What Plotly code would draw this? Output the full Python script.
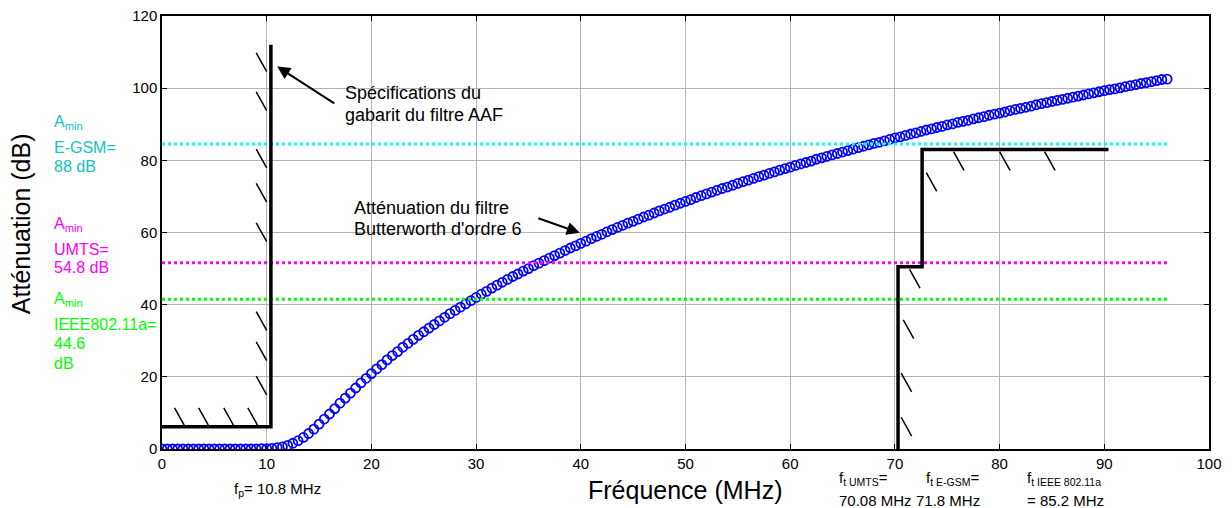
import plotly.graph_objects as go

# courbe d'attenuation (Butterworth ordre 6), lue sur le graphe, pas de 0.5 MHz
freq_step = 0.5
attenuation = [
    0.0, 0.0, 0.0, 0.0, 0.0, 0.0, 0.0, 0.0, 0.0, 0.0,
    0.0, 0.0, 0.0, 0.0, 0.0, 0.0, 0.0, 0.0, 0.0, 0.1,
    0.1, 0.2, 0.4, 0.6, 1.0, 1.6, 2.3, 3.2, 4.3, 5.5,
    6.9, 8.3, 9.7, 11.2, 12.7, 14.1, 15.5, 16.9, 18.3, 19.6,
    20.9, 22.2, 23.4, 24.7, 25.9, 27.0, 28.2, 29.3, 30.4, 31.5,
    32.5, 33.5, 34.5, 35.5, 36.5, 37.5, 38.4, 39.3, 40.2, 41.1,
    42.0, 42.9, 43.7, 44.6, 45.4, 46.2, 47.0, 47.8, 48.5, 49.3,
    50.0, 50.8, 51.5, 52.2, 52.9, 53.6, 54.3, 55.0, 55.7, 56.3,
    57.0, 57.6, 58.3, 58.9, 59.5, 60.2, 60.8, 61.4, 62.0, 62.6,
    63.1, 63.7, 64.3, 64.8, 65.4, 66.0, 66.5, 67.0, 67.6, 68.1,
    68.6, 69.1, 69.7, 70.2, 70.7, 71.2, 71.7, 72.2, 72.6, 73.1,
    73.6, 74.1, 74.5, 75.0, 75.5, 75.9, 76.4, 76.8, 77.3, 77.7,
    78.1, 78.6, 79.0, 79.4, 79.8, 80.3, 80.7, 81.1, 81.5, 81.9,
    82.3, 82.7, 83.1, 83.5, 83.9, 84.3, 84.7, 85.0, 85.4, 85.8,
    86.2, 86.5, 86.9, 87.3, 87.6, 88.0, 88.4, 88.7, 89.1, 89.4,
    89.8, 90.1, 90.5, 90.8, 91.1, 91.5, 91.8, 92.1, 92.5, 92.8,
    93.1, 93.4, 93.8, 94.1, 94.4, 94.7, 95.0, 95.4, 95.7, 96.0,
    96.3, 96.6, 96.9, 97.2, 97.5, 97.8, 98.1, 98.4, 98.7, 99.0,
    99.3, 99.6, 99.8, 100.1, 100.4, 100.7, 101.0, 101.3, 101.5, 101.8,
    102.1, 102.4, 102.5,
]
freq = [i * freq_step for i in range(len(attenuation))]

# gabarit du filtre AAF
pass_x = [0, 10.4, 10.4]
pass_y = [6.2, 6.2, 112]
stop_x = [70.3, 70.3, 72.6, 72.6, 90.4]
stop_y = [-2, 50.5, 50.5, 83.0, 83.0]

# hachures (point haut-gauche de chaque trait)
hatch_x = [1.2, 3.5, 5.9, 8.2,
           9.0, 9.0, 9.0, 9.0, 9.0, 9.0, 9.0, 9.0,
           70.8, 70.6, 70.6, 71.4, 73.0, 75.6, 80.0, 84.3]
hatch_y = [11.4, 11.4, 11.4, 11.4,
           109.8, 99.0, 83.1, 73.6, 62.7, 38.1, 29.7, 20.2,
           35.8, 21.0, 8.8, 49.8, 76.6, 82.4, 82.4, 82.4]
hatch_dx, hatch_dy = 1.0, 5.2

# attenuations minimales
amin_levels = [84.5, 51.6, 41.5]
amin_colors = ["#00FFFF", "#FF00FF", "#00FF00"]
amin_x = [0, 96]

X_RANGE = [0, 100]
Y_RANGE = [0, 120]
FONT = "Liberation Sans, Arial, sans-serif"

fig = go.Figure()

fig.add_trace(go.Scatter(x=freq, y=attenuation, mode="markers",
                         marker=dict(symbol="circle-open", size=9, color="#0000FF",
                                     line=dict(width=1.8, color="#0000FF"))))

for lvl, col in zip(amin_levels, amin_colors):
    fig.add_trace(go.Scatter(x=amin_x, y=[lvl, lvl], mode="lines",
                             line=dict(color=col, width=3, dash="dot")))

hx, hy = [], []
for x0, y0 in zip(hatch_x, hatch_y):
    hx += [x0, x0 + hatch_dx, None]
    hy += [y0, y0 - hatch_dy, None]
fig.add_trace(go.Scatter(x=hx, y=hy, mode="lines", line=dict(color="black", width=1.5)))

fig.add_trace(go.Scatter(x=pass_x, y=pass_y, mode="lines", line=dict(color="black", width=3.5)))
fig.add_trace(go.Scatter(x=stop_x, y=stop_y, mode="lines", line=dict(color="black", width=3.5)))


def px(x):
    return (x - X_RANGE[0]) / (X_RANGE[1] - X_RANGE[0])


def py(y):
    return (y - Y_RANGE[0]) / (Y_RANGE[1] - Y_RANGE[0])


def label(x, y, text, color="black", size=15, anchor="left", angle=0):
    # positions en unites des axes, converties en coordonnees paper (texte hors du cadre)
    fig.add_annotation(x=px(x), y=py(y), xref="paper", yref="paper", text=text,
                       showarrow=False, xanchor=anchor, yanchor="middle", textangle=angle,
                       font=dict(family=FONT, size=size, color=color))


# textes a gauche
cyan_txt = "#10C4C4"
label(-10.5, 90.4, "A<sub>min</sub>", cyan_txt, 16)
label(-10.5, 83.6, "E-GSM=", cyan_txt, 16)
label(-10.5, 78.4, "88 dB", cyan_txt, 16)
label(-10.5, 62.1, "A<sub>min</sub>", "#FF00FF", 16)
label(-10.5, 55.4, "UMTS=", "#FF00FF", 16)
label(-10.5, 50.3, "54.8 dB", "#FF00FF", 16)
label(-10.5, 41.3, "A<sub>min</sub>", "#00FF00", 16)
label(-10.5, 34.6, "IEEE802.11a=", "#00FF00", 16)
label(-10.5, 29.1, "44.6", "#00FF00", 16)
label(-10.5, 23.8, "dB", "#00FF00", 16)

# textes dans le graphe
label(17.3, 98.6, "Spécifications du", size=18)
label(17.3, 92.7, "gabarit du filtre AAF", size=18)
label(18.1, 66.8, "Atténuation du filtre", size=18)
label(18.1, 61.0, "Butterworth d'ordre 6", size=18)

# textes sous l'axe
label(6.66, -11.1, "f<sub>p</sub>= 10.8 MHz")
label(64.5, -8.3, "f<sub>t UMTS</sub>=")
label(64.5, -14.4, "70.08 MHz")
label(72.8, -8.3, "f<sub>t E-GSM</sub>=")
label(71.8, -14.4, "71.8 MHz")
label(82.4, -8.3, "f<sub>t IEEE 802.11a</sub>")
label(82.4, -14.4, "= 85.2 MHz")

# titres des axes
label(50, -11.4, "Fréquence (MHz)", size=25, anchor="center")
label(-13.4, 62.5, "Atténuation (dB)", size=25, anchor="center", angle=-90)

# fleches
for (hx0, hy0, tx0, ty0) in [(11.0, 106.0, 16.6, 95.5), (39.9, 59.9, 35.8, 64.1)]:
    fig.add_annotation(x=hx0, y=hy0, ax=tx0, ay=ty0, xref="x", yref="y", axref="x", ayref="y",
                       text="", showarrow=True, arrowhead=2, arrowsize=1.3, arrowwidth=2,
                       arrowcolor="black")

axis_style = dict(showline=True, linecolor="black", linewidth=1.5, mirror="ticks",
                  ticks="inside", ticklen=5, tickcolor="black", showgrid=True,
                  gridcolor="#B4B4B4", gridwidth=1, zeroline=False, automargin=False,
                  ticklabeloverflow="allow",
                  tickfont=dict(family=FONT, size=15, color="black"))

fig.update_xaxes(range=X_RANGE, tick0=0, dtick=10, **axis_style)
fig.update_yaxes(range=Y_RANGE, tick0=0, dtick=20, **axis_style)

# la page ajoute 8 px de marge autour du graphe
fig.update_layout(width=1224, height=500, showlegend=False,
                  margin=dict(l=154, r=23, t=8, b=59),
                  plot_bgcolor="white", paper_bgcolor="white")

fig.write_html("out.html")
